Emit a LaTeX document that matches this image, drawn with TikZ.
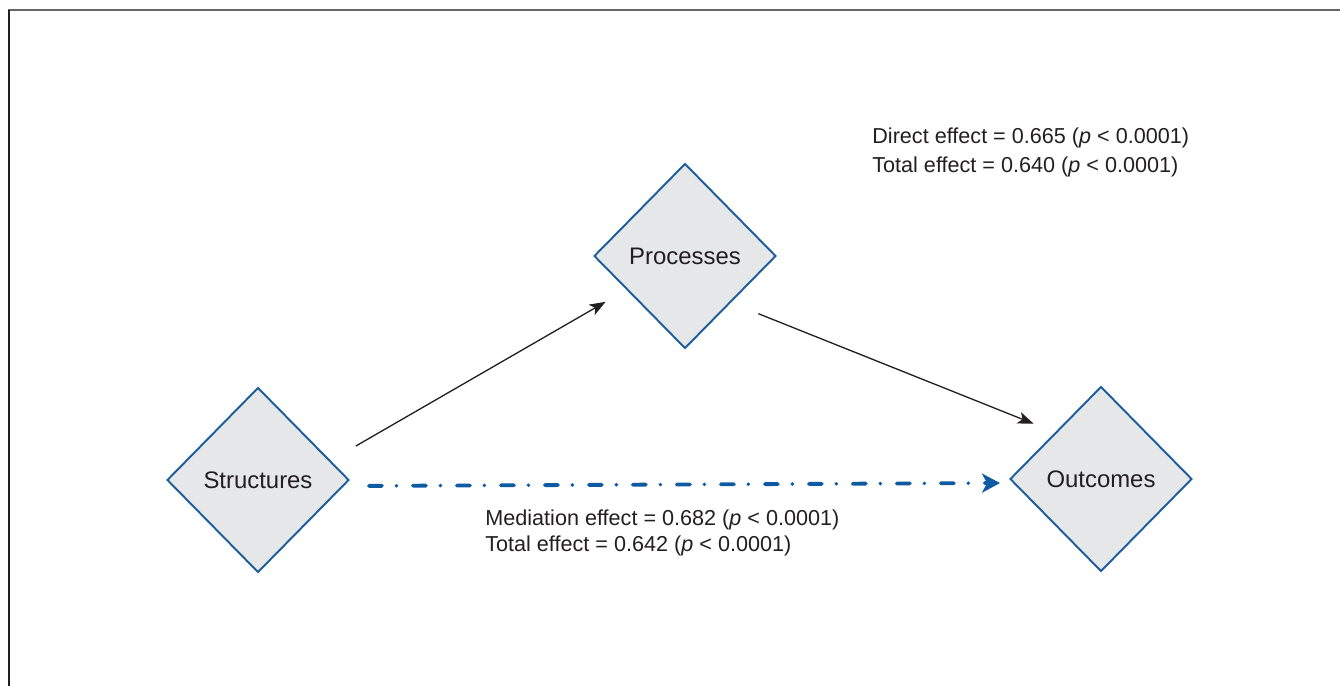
\documentclass[tikz,border=0pt]{standalone}
\usepackage{fontspec}
\setmainfont{Liberation Sans}
\usepackage{tikz}
\usetikzlibrary{shapes.geometric,arrows.meta}

\definecolor{boxfill}{HTML}{E6E7E8}
\definecolor{boxline}{HTML}{1C5D9C}
\definecolor{medblue}{HTML}{0E5BA3}
\definecolor{inkgray}{HTML}{231F20}
\definecolor{framegray}{HTML}{666666}

\begin{document}
\begin{tikzpicture}[x=0.02cm, y=-0.02cm]
        \tikzset{BoxStyle/.style={shape=diamond, aspect=1, fill=boxfill,
            draw=boxline, line width=1.1pt, inner sep=0pt,
            minimum width=3.64cm, minimum height=3.7cm,
            text=inkgray, font=\fontsize{13.6}{16}\selectfont}}
        \tikzset{EdgeStyle/.style={draw=inkgray, line width=0.75pt,
            -{Stealth[length=0.32cm, width=0.24cm, inset=0.08cm]}}}
        \tikzset{MediationStyle/.style={draw=medblue, line width=2.2pt,
            line cap=round, dash pattern=on 0.26cm off 0.29cm on 0cm off 0.33cm,
            -{Stealth[length=0.36cm, width=0.38cm, inset=0.1cm]}}}
        \tikzset{NoteStyle/.style={anchor=base west, inner sep=0pt,
            text=inkgray, font=\fontsize{12.3}{15}\selectfont}}

        \useasboundingbox (0,0) rectangle (1340,686);
        \draw[framegray, line width=1.2pt] (8,10) -- (1340,10);
        \draw[inkgray, line width=1.2pt] (9,10) -- (9,686);

        \node[BoxStyle] (structures) at (258,480) {Structures};
        \node[BoxStyle] (processes) at (685,256) {Processes};
        \node[BoxStyle] (outcomes) at (1101,479) {Outcomes};

        \draw[EdgeStyle, shorten <=0.58cm, shorten >=0.48cm]
          (structures.15) -- (processes.210);
        \draw[EdgeStyle, shorten <=0.59cm, shorten >=0.46cm]
          (processes.south east) -- (outcomes.north west);
        \draw[MediationStyle, shorten <=0.38cm, shorten >=0.18cm]
          ([yshift=-0.12cm]structures.east) -- ([yshift=-0.08cm]outcomes.west);

        \node[NoteStyle] (direct) at (872,144)
          {Direct effect = 0.665 (\textit{p} < 0.0001)};
        \node[NoteStyle] (directtotal) at (872,173)
          {Total effect = 0.640 (\textit{p} < 0.0001)};
        \node[NoteStyle] (mediation) at (485,525)
          {Mediation effect = 0.682 (\textit{p} < 0.0001)};
        \node[NoteStyle] (mediationtotal) at (485,551)
          {Total effect = 0.642 (\textit{p} < 0.0001)};
      \end{tikzpicture}
\end{document}
